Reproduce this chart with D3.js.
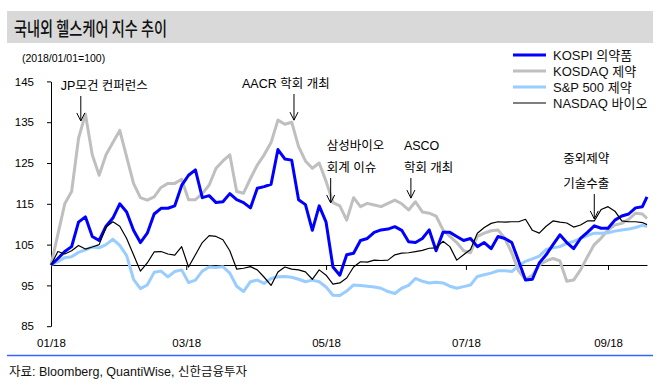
<!DOCTYPE html>
<html>
<head>
<meta charset="utf-8">
<script src="https://cdn.jsdelivr.net/npm/d3@7"></script>
<style>
  body { margin: 0; background: #fff; }
  svg { display: block; }
</style>
</head>
<body>
<svg id="chart" width="665" height="384"></svg>
<script>
// ---- data (2018/01/01 = 100) ----
const dates = [
  "2018-01-01","2018-01-04","2018-01-07","2018-01-10","2018-01-13","2018-01-16","2018-01-19","2018-01-22","2018-01-25","2018-01-28","2018-01-31",
  "2018-02-03","2018-02-06","2018-02-09","2018-02-12","2018-02-15","2018-02-18","2018-02-21","2018-02-24","2018-02-27",
  "2018-03-02","2018-03-05","2018-03-08","2018-03-11","2018-03-14","2018-03-17","2018-03-20","2018-03-23","2018-03-26","2018-03-29",
  "2018-04-01","2018-04-04","2018-04-07","2018-04-10","2018-04-13","2018-04-16","2018-04-19","2018-04-22","2018-04-25","2018-04-28",
  "2018-05-01","2018-05-04","2018-05-07","2018-05-10","2018-05-13","2018-05-16","2018-05-19","2018-05-22","2018-05-25","2018-05-28","2018-05-31",
  "2018-06-03","2018-06-06","2018-06-09","2018-06-12","2018-06-15","2018-06-18","2018-06-21","2018-06-24","2018-06-27","2018-06-30",
  "2018-07-03","2018-07-06","2018-07-09","2018-07-12","2018-07-15","2018-07-18","2018-07-21","2018-07-24","2018-07-27","2018-07-30",
  "2018-08-02","2018-08-05","2018-08-08","2018-08-11","2018-08-14","2018-08-17","2018-08-20","2018-08-23","2018-08-26","2018-08-29",
  "2018-09-01","2018-09-04","2018-09-07","2018-09-10","2018-09-13","2018-09-16","2018-09-18"
];

const kospiPharma = [
  100, 101.6, 103.3, 104.5, 110.5, 111.8, 107, 106, 109.5, 111.5, 115,
  113, 108.5, 105.5, 107.8, 112.5, 113.9, 113.9, 114.5, 119.5,
  122, 123.3, 116.5, 117, 115.3, 115.5, 117.5, 116, 115.3, 114,
  118.8, 119.2, 119.8, 128.3, 126, 125.7, 116, 114.8, 108.5, 114.5,
  110.5, 99.5, 97.5, 102.5, 102.9, 106, 106.5, 108, 108.6, 108.8, 109.4,
  108.5, 105.7, 105.5, 106.5, 108.6, 103.5, 108, 108, 107, 106,
  106.5, 104.5, 105.5, 104, 107, 106.5, 105.5, 101, 96.3, 96.5,
  100.5, 102.5, 105, 107.4, 105.5, 104, 106.5, 108, 109.6, 109,
  109, 111, 112, 112.5, 114, 114.3, 116.7
];

const kosdaqPharma = [
  100, 107.5, 115, 118, 131, 137, 127, 122, 127, 130, 133,
  126.5, 120, 116.5, 115.9, 116.7, 119, 120, 120, 121,
  116, 116, 117.5, 119.6, 123.7, 125.5, 127, 118, 117.6, 121.2,
  124.5, 127, 130, 135.5, 134.5, 135, 129, 125.5, 123.7, 125,
  120.5, 115.3, 114.5, 111, 116.5, 114.3, 115.1, 114.7, 114.3, 115.1, 115.9,
  115, 113.5, 115.5, 113, 112.7, 112, 108.6, 107, 105.5, 103.5,
  103, 107, 107.8, 108.4, 108.6, 106.5, 103, 98.5, 96.5, 97.5,
  100, 101, 101.6, 101, 96, 96.3, 98.8, 102, 105, 106.6,
  108.6, 109.8, 110.2, 111.2, 112.7, 112.5, 111.4
];

const spPharma = [
  100, 100.8, 101.8, 102, 103.1, 103.7, 104.4, 104.2, 105, 106.3, 104.8,
  102.3, 96.5, 94.2, 95.1, 98.2, 98.5, 97.1, 98.4, 98.8,
  95.7, 96.3, 98.5, 99.5, 99.4, 99.6, 98, 94.8, 93.5, 95.9,
  96.3, 95.5, 96.7, 97.1, 97.2, 97, 96.5, 95.9, 96.3, 95.9,
  94.6, 92.6, 92.5, 93.6, 95.1, 95, 94.8, 94.6, 94.3, 93.5, 93,
  94.3, 95, 96.7, 96, 95.6, 95.8, 95.6, 94.8, 94.3, 94.7,
  95.1, 97.2, 97.6, 98, 98.6, 98.6, 98.4, 99.8, 100.9, 101.5,
  102.2, 103.8, 104.2, 104.5, 105.3, 105.8, 106.5, 107.2, 107.8, 107.8,
  107.9, 108.3, 108.6, 108.8, 109.2, 109.7, 109.4
];

const nasdaqBio = [
  100, 103.3, 102.7, 103.5, 104.8, 103.9, 104.4, 105, 109.3, 110.6, 109.5,
  106.5, 102.5, 98.5, 100.5, 103.2, 103.3, 102.7, 102.4, 104.5,
  99.5, 102.5, 105.5, 107.2, 107, 106.2, 103.5, 99, 99.2, 99.6,
  98.8, 97, 95, 98.3, 99.5, 99, 98.8, 98.3, 96.5, 98.8,
  97.5, 95.3, 95.6, 96.8, 99.5, 100.8, 100.7, 101.2, 101.1, 101.2, 102.5,
  102.9, 103, 103.3, 103.6, 104.1, 104.2, 105.8, 104.5, 101.2, 102.5,
  103.8, 107.8, 109.2, 110.2, 110.6, 110.5, 110.6, 110.6, 111.2, 108.5,
  107.8, 109.5, 110.8, 110.5, 110.3, 109.3, 109.8, 110.8, 110.8, 113.6,
  114.3, 113.2, 110.8, 110.6, 110.6, 110.4, 109.9
];

const seriesNames = ["KOSPI 의약품", "KOSDAQ 제약", "S&P 500 제약", "NASDAQ 바이오"];
const yTicks = [85, 95, 105, 115, 125, 135, 145];
const xTickDates = ["2018-01-01", "2018-03-01", "2018-05-01", "2018-07-01", "2018-09-01"];

// events: arrow tip sits on (date, value)
const notes = [
  { date: "2018-01-14", value: 135.3, lines: ["JP모건 컨퍼런스"] },
  { date: "2018-04-17", value: 135.5, lines: ["AACR 학회 개최"] },
  { date: "2018-05-03", value: 115.2, lines: ["삼성바이오", "회계 이슈"] },
  { date: "2018-06-07", value: 116.4, lines: ["ASCO", "학회 개최"] },
  { date: "2018-08-26", value: 111.3, lines: ["중외제약", "기술수출"] }
];

// ---- layout ----
const FONT = "'Liberation Sans', Arial, 'Noto Sans CJK KR', sans-serif";
const KFONT = "'Noto Sans CJK KR', sans-serif";
const parse = d3.timeParse('%Y-%m-%d');

const svg = d3.select('#chart');
svg.append('rect').attr('width', 665).attr('height', 384).attr('fill', '#fff');

const x = d3.scaleTime()
    .domain([parse(dates[0]), parse(dates[dates.length - 1])])
    .range([51, 647]);
const y = d3.scaleLinear().domain([85, 145]).range([326.2, 81.4]);

// title band
svg.append('rect')
    .attr('x', 7).attr('y', 11).attr('width', 646).attr('height', 32)
    .attr('fill', '#d9d9d9');
svg.append('text')
    .attr('x', 14).attr('y', 35.5)
    .attr('font-family', KFONT).attr('font-size', 19).attr('font-weight', 500)
    .attr('textLength', 153).attr('lengthAdjust', 'spacingAndGlyphs')
    .attr('fill', '#111')
    .text('국내외 헬스케어 지수 추이');

svg.append('text')
    .attr('x', 22).attr('y', 62)
    .attr('font-family', FONT).attr('font-size', 10.5)
    .text('(2018/01/01=100)');

// y axis
const yAxis = svg.append('g')
    .attr('transform', 'translate(51,0)')
    .call(d3.axisLeft(y).tickValues(yTicks).tickSize(4).tickSizeOuter(0).tickPadding(13));
yAxis.selectAll('text').attr('font-family', FONT).attr('font-size', 11.5).attr('fill', '#000');
yAxis.selectAll('line, path').attr('stroke', '#000');

// baseline at 100 with month ticks
const xAxis = svg.append('g')
    .attr('transform', `translate(0,${y(100)})`)
    .call(d3.axisBottom(x).tickValues(xTickDates.map(parse)).tickSize(5).tickSizeOuter(0).tickFormat(''));
xAxis.selectAll('line, path').attr('stroke', '#000');

// month labels at the bottom
const xLabels = svg.append('g')
    .attr('transform', 'translate(0,339)')
    .call(d3.axisBottom(x).tickValues(xTickDates.map(parse)).tickSize(0).tickPadding(0)
        .tickFormat(d3.timeFormat('%m/%y')));
xLabels.select('.domain').remove();
xLabels.selectAll('text').attr('font-family', FONT).attr('font-size', 11.5).attr('fill', '#000');

// series
const series = [
  { name: seriesNames[1], values: kosdaqPharma, color: '#bfbfbf', width: 3 },
  { name: seriesNames[2], values: spPharma, color: '#99ccff', width: 3 },
  { name: seriesNames[0], values: kospiPharma, color: '#0000ff', width: 3 },
  { name: seriesNames[3], values: nasdaqBio, color: '#000000', width: 1.2 }
];

const line = d3.line()
    .x(d => x(d.date))
    .y(d => y(d.value));

svg.append('g').selectAll('path')
    .data(series)
    .enter()
    .append('path')
    .attr('fill', 'none')
    .attr('stroke', d => d.color)
    .attr('stroke-width', d => d.width)
    .attr('stroke-linejoin', 'round')
    .attr('d', d => line(d.values.map((v, i) => ({ date: parse(dates[i]), value: v }))));

// legend (in legend order)
const legendOrder = [2, 0, 1, 3].map(i => series[i]);
const legend = svg.append('g').selectAll('g')
    .data(legendOrder)
    .enter()
    .append('g')
    .attr('transform', (d, i) => `translate(513,${55 + i * 16})`);
legend.append('line')
    .attr('x1', 0).attr('x2', 33)
    .attr('stroke', d => d.color)
    .attr('stroke-width', d => d.width);
legend.append('text')
    .attr('x', 40).attr('dy', '0.36em')
    .attr('font-family', FONT).attr('font-size', 13)
    .attr('fill', '#111')
    .text(d => d.name);

// event annotations: text offset and first baseline per note
const noteLayout = [
  { dx: -20, y: 90 },
  { dx: -52, y: 88 },
  { dx: -4, y: 150 },
  { dx: -7, y: 150 },
  { dx: -31, y: 163 }
];
const noteGroups = svg.append('g').selectAll('g')
    .data(notes)
    .enter()
    .append('g');

noteGroups.each(function(d, i) {
    const g = d3.select(this);
    const ax = x(parse(d.date));
    const tip = y(d.value);
    const lay = noteLayout[i];
    const lineGap = d.lines.length > 1 ? (i === 4 ? 25 : 22) : 0;
    d.lines.forEach((t, k) => {
        g.append('text')
            .attr('x', ax + lay.dx)
            .attr('y', lay.y + k * lineGap)
            .attr('font-family', FONT)
            .attr('font-size', 12.5)
            .attr('fill', '#000')
            .text(t);
    });
    const top = lay.y + (d.lines.length - 1) * lineGap + 6;
    g.append('path')
        .attr('d', `M${ax},${top}L${ax},${tip}M${ax - 4},${tip - 8}L${ax},${tip}L${ax + 4},${tip - 8}`)
        .attr('fill', 'none')
        .attr('stroke', '#000')
        .attr('stroke-width', 1);
});

// bottom rule and source
svg.append('line')
    .attr('x1', 7).attr('x2', 653)
    .attr('y1', 355.5).attr('y2', 355.5)
    .attr('stroke', '#3366ff').attr('stroke-width', 1.5);
svg.append('text')
    .attr('x', 9).attr('y', 376)
    .attr('font-family', FONT).attr('font-size', 12.5)
    .attr('fill', '#111')
    .text('자료: Bloomberg, QuantiWise, 신한금융투자');
</script>
</body>
</html>
